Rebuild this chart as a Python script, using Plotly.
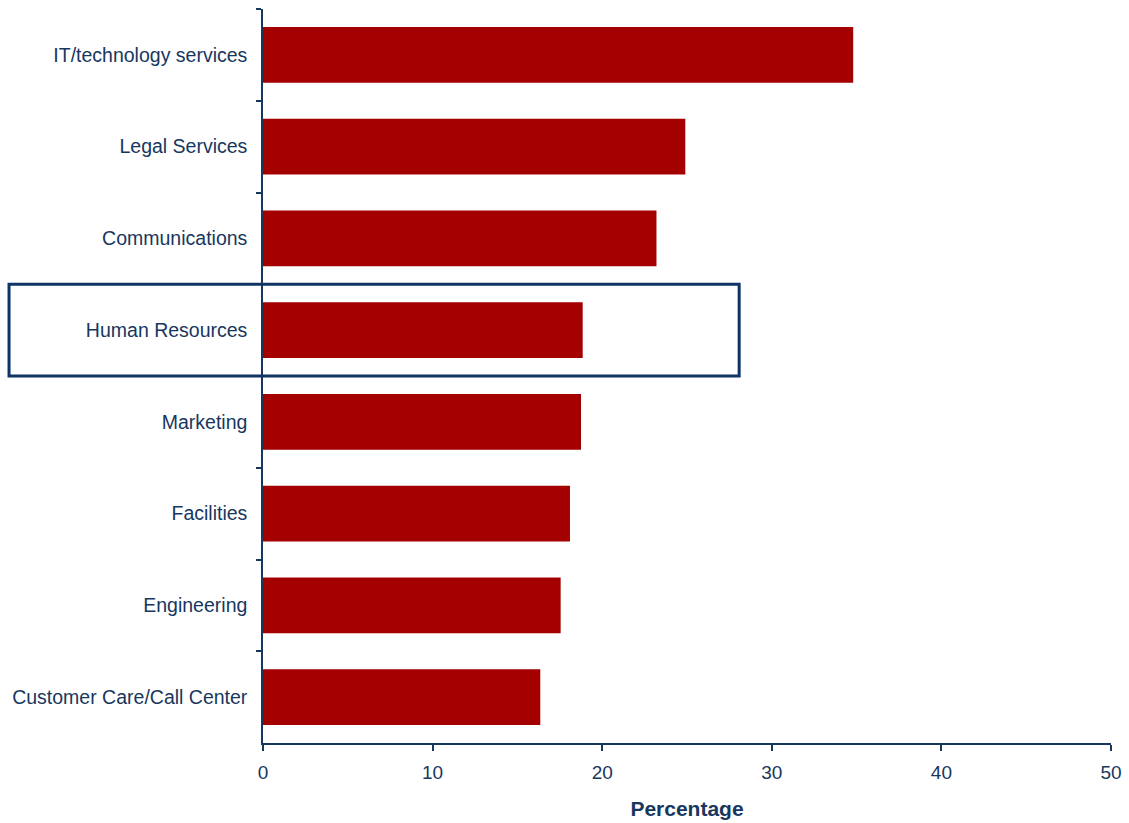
import plotly.graph_objects as go

# Share of respondents by function (percent), listed top to bottom
functions = [
    "IT/technology services",
    "Legal Services",
    "Communications",
    "Human Resources",
    "Marketing",
    "Facilities",
    "Engineering",
    "Customer Care/Call Center",
]
percentages = [34.8, 24.9, 23.2, 18.85, 18.75, 18.1, 17.55, 16.35]
highlighted = "Human Resources"
x_ticks = [0, 10, 20, 30, 40, 50]

NAVY = "#17375E"
BAR_RED = "#A50000"
FONT = "Liberation Sans, Arial, sans-serif"

fig = go.Figure(
    go.Bar(
        x=percentages,
        y=functions,
        orientation="h",
        marker=dict(color=BAR_RED, line=dict(width=0)),
        hoverinfo="x+y",
    )
)

hi = functions.index(highlighted)
fig.add_shape(
    type="rect",
    xref="paper", yref="y",
    x0=-0.2995, x1=0.5615,
    y0=hi - 0.5, y1=hi + 0.5,
    line=dict(color="#0E3465", width=3),
    fillcolor="rgba(0,0,0,0)",
    layer="above",
)

fig.update_layout(
    width=1129,
    height=823,
    margin=dict(l=263, r=18, t=9, b=80),
    paper_bgcolor="white",
    plot_bgcolor="white",
    bargap=0.39,
    showlegend=False,
    font=dict(family=FONT, color=NAVY),
)

fig.update_xaxes(
    range=[0, 50],
    tickvals=x_ticks,
    ticks="outside",
    ticklen=6,
    tickwidth=1.5,
    tickcolor=NAVY,
    showline=True,
    linecolor=NAVY,
    linewidth=1.5,
    showgrid=False,
    zeroline=False,
    automargin=False,
    tickfont=dict(size=19, color=NAVY),
    ticklabelstandoff=5,
    title=dict(
        text="Percentage",
        font=dict(size=21, color=NAVY, weight="bold"),
        standoff=20,
    ),
)

fig.update_yaxes(
    type="category",
    categoryorder="array",
    categoryarray=functions,
    autorange="reversed",
    tickson="boundaries",
    ticks="outside",
    ticklen=5,
    tickwidth=1.5,
    tickcolor=NAVY,
    showline=True,
    linecolor=NAVY,
    linewidth=1.5,
    showgrid=False,
    zeroline=False,
    automargin=False,
    tickfont=dict(size=19.5, color=NAVY),
    ticklabelstandoff=10,
)

fig.write_html("out.html")
